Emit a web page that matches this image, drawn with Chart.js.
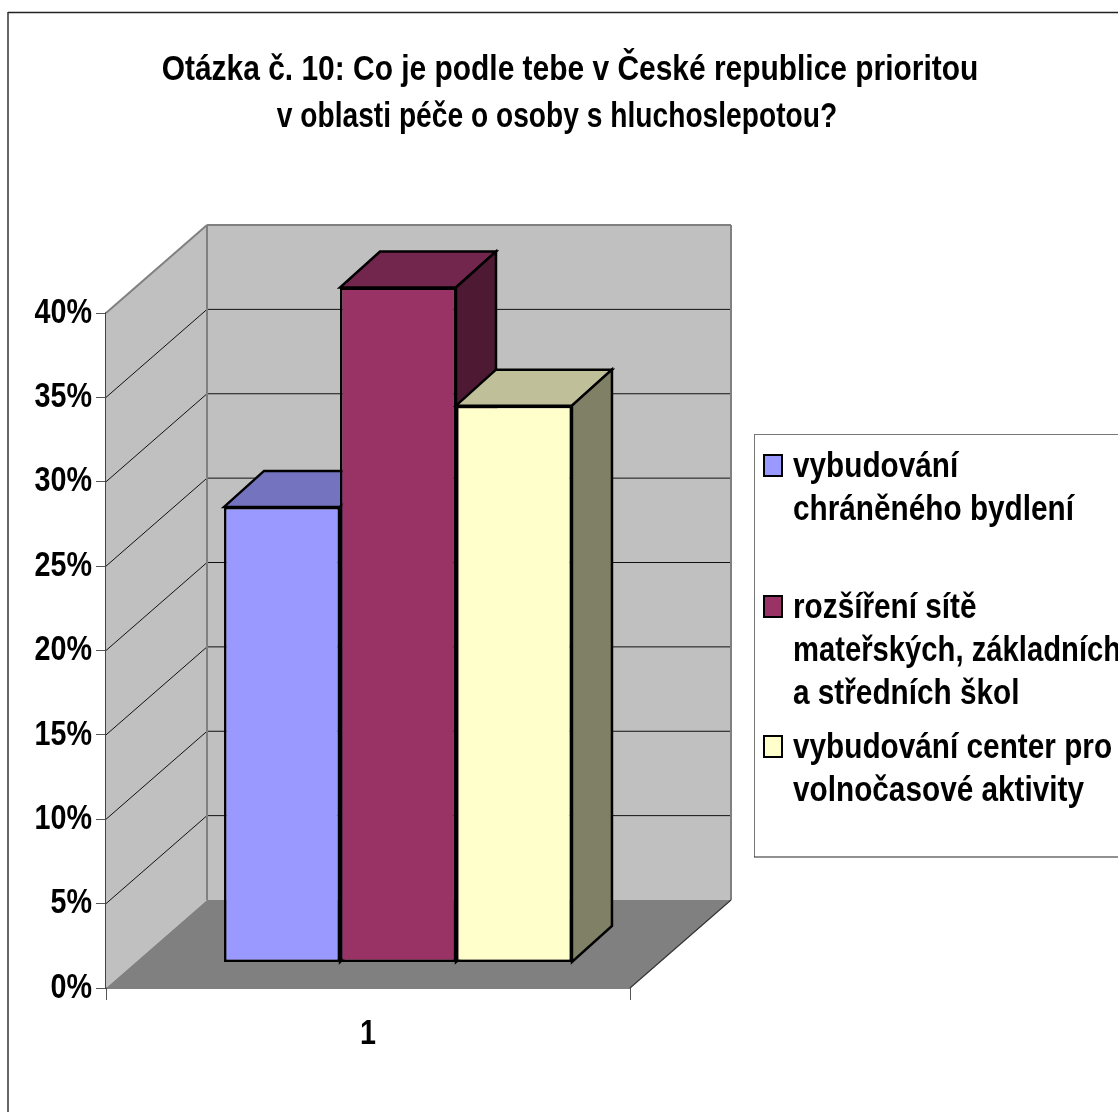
<!DOCTYPE html>
<html>
<head>
<meta charset="utf-8">
<style>
  html, body { margin: 0; padding: 0; background: #fff; overflow: hidden; }
  #wrap { position: relative; width: 1118px; height: 1112px; }
</style>
<script src="https://cdn.jsdelivr.net/npm/chart.js@4/dist/chart.umd.min.js"></script>
</head>
<body>
<div id="wrap"><canvas id="chart" width="1118" height="1112"></canvas></div>
<script>
const titleLines = [
  "Otázka č. 10: Co je podle tebe v České republice prioritou",
  "v oblasti péče o osoby s hluchoslepotou?"
];
const categories = ["1"];
const seriesNames = [
  ["vybudování", "chráněného bydlení"],
  ["rozšíření sítě", "mateřských, základních", "a středních škol"],
  ["vybudování center pro", "volnočasové aktivity"]
];
const seriesValues = [[27], [40], [33]];
const seriesColors = ["#9999FF", "#993366", "#FFFFCC"];
const topColors = ["#7373BF", "#73264D", "#BFBF99"];
const sideColors = ["#4D4D80", "#4D1933", "#808066"];
const tickLabels = ["0%", "5%", "10%", "15%", "20%", "25%", "30%", "35%", "40%"];

const fontFamily = '"Liberation Sans", Arial, sans-serif';

const canvas = document.getElementById("chart");

// o texto do original e estreito: comprime as letras na horizontal
const context = canvas.getContext("2d");
const rawFillText = context.fillText;
context.fillText = function (s, x, y, maxWidth) {
  let squeeze = 0.82;
  if (seriesNames.flat().includes(s)) squeeze = 0.85;
  if (s === seriesNames[1][1]) squeeze = 0.835;
  if (s === titleLines[0]) squeeze = 0.855;
  if (s === titleLines[1]) { squeeze = 0.805; x -= 13; }
  rawFillText.call(this, s, x, y, this.measureText(s).width * squeeze);
};

function poly(ctx, pts, fill, stroke, width) {
  ctx.beginPath();
  pts.forEach((p, i) => i ? ctx.lineTo(p[0], p[1]) : ctx.moveTo(p[0], p[1]));
  ctx.closePath();
  if (fill) { ctx.fillStyle = fill; ctx.fill(); }
  if (stroke) { ctx.strokeStyle = stroke; ctx.lineWidth = width; ctx.lineJoin = "miter"; ctx.stroke(); }
}

function line(ctx, x1, y1, x2, y2, color, width) {
  ctx.beginPath();
  ctx.moveTo(x1, y1);
  ctx.lineTo(x2, y2);
  ctx.strokeStyle = color;
  ctx.lineWidth = width;
  ctx.stroke();
}

// paredes, chao e barras em pseudo 3D
const box3d = {
  id: "box3d",
  beforeDraw(chart) {
    const ctx = chart.ctx;
    ctx.save();
    line(ctx, 8, 12.5, 1118, 12.5, "#222", 1.5);
    line(ctx, 8, 12, 8, 1112, "#333", 1.5);
    ctx.restore();
  },
  beforeDatasetsDraw(chart) {
    const ctx = chart.ctx;
    const a = chart.chartArea;
    const y = chart.scales.y;
    const dx = 101, dy = -88;
    ctx.save();

    // paredes
    poly(ctx, [[a.left, a.bottom], [a.left, a.top], [a.left + dx, a.top + dy], [a.left + dx, a.bottom + dy]], "#C0C0C0");
    poly(ctx, [[a.left + dx, a.top + dy], [a.right + dx, a.top + dy], [a.right + dx, a.bottom + dy], [a.left + dx, a.bottom + dy]], "#C0C0C0");
    poly(ctx, [[a.left, a.bottom], [a.right, a.bottom], [a.right + dx, a.bottom + dy], [a.left + dx, a.bottom + dy]], "#808080");

    // linhas de grade
    y.ticks.forEach(t => {
      const py = y.getPixelForValue(t.value);
      if (t.value === 0 || t.value === 40) return;
      line(ctx, a.left, py, a.left + dx, py + dy, "#111", 1);
      line(ctx, a.left + dx, py + dy, a.right + dx, py + dy, "#111", 1);
    });
    line(ctx, a.left, a.top, a.left + dx, a.top + dy, "#808080", 2);
    line(ctx, a.left + dx, a.top + dy, a.right + dx, a.top + dy, "#808080", 2);
    line(ctx, a.left + dx, a.top + dy, a.left + dx, a.bottom + dy, "#808080", 2);
    line(ctx, a.right + dx, a.top + dy, a.right + dx, a.bottom + dy, "#808080", 2);
    line(ctx, a.right, a.bottom, a.right + dx, a.bottom + dy, "#333", 1.2);

    // barras, da esquerda para a direita
    const ox = 30, oy = -25.5, bx = 40, by = -36;
    ctx.translate(ox, oy);
    chart.getSortedVisibleDatasetMetas().forEach(meta => {
      const i = meta.index;
      meta.data.forEach(bar => {
        const p = bar.getProps(["x", "y", "base", "width"], true);
        const l = p.x - p.width / 2, r = p.x + p.width / 2;
        poly(ctx, [[l, p.y], [r, p.y], [r + bx, p.y + by], [l + bx, p.y + by]], topColors[i], "#000", 2.5);
        poly(ctx, [[r, p.y], [r + bx, p.y + by], [r + bx, p.base + by], [r, p.base]], sideColors[i], "#000", 2.5);
        bar.draw(ctx);
      });
    });
    ctx.restore();
    return false;
  },
  afterDraw(chart) {
    const ctx = chart.ctx;
    ctx.save();

    // legenda
    ctx.fillStyle = "#fff";
    ctx.fillRect(754, 434, 364, 423);
    line(ctx, 754, 434.5, 1118, 434.5, "#777", 1);
    line(ctx, 754.5, 434, 754.5, 857, "#777", 1);
    line(ctx, 754, 857, 1118, 857, "#222", 1);
    const rowTops = [477, 618, 758];
    ctx.font = "bold 35px " + fontFamily;
    ctx.textBaseline = "alphabetic";
    seriesNames.forEach((lines, i) => {
      ctx.fillStyle = seriesColors[i];
      ctx.strokeStyle = "#000";
      ctx.lineWidth = 2;
      ctx.fillRect(764, rowTops[i] - 22, 18, 21);
      ctx.strokeRect(764, rowTops[i] - 22, 18, 21);
      ctx.fillStyle = "#000";
      lines.forEach((s, k) => ctx.fillText(s, 793, rowTops[i] + k * 43));
    });
    ctx.restore();
  }
};

new Chart(canvas, {
  type: "bar",
  data: {
    labels: categories,
    datasets: seriesValues.map((values, i) => ({
      label: seriesNames[i].join(" "),
      data: values,
      backgroundColor: seriesColors[i],
      borderColor: "#000",
      borderWidth: 2.5,
      borderSkipped: false,
      categoryPercentage: 0.664,
      barPercentage: 1
    }))
  },
  options: {
    responsive: false,
    animation: false,
    devicePixelRatio: 1,
    layout: { padding: { left: 22, right: 0, top: 0, bottom: 0 } },
    plugins: {
      legend: { display: false },
      tooltip: { enabled: false },
      title: {
        display: true,
        text: titleLines,
        color: "#000",
        font: { family: fontFamily, size: 35, weight: "bold", lineHeight: 1.343 },
        padding: { top: 47, bottom: 172 }
      }
    },
    scales: {
      x: {
        grid: { drawOnChartArea: false, tickLength: 12, color: "#555" },
        border: { color: "#000", width: 1.5 },
        ticks: { color: "#000", padding: 13, font: { family: fontFamily, size: 35, weight: "bold" } },
        afterFit(scale) { scale.height = 124; }
      },
      y: {
        min: 0,
        max: 40,
        grid: { drawOnChartArea: false, tickLength: 10, color: "#555" },
        border: { color: "#444", width: 2 },
        ticks: {
          stepSize: 5,
          color: "#000",
          padding: 4,
          font: { family: fontFamily, size: 35, weight: "bold" },
          callback: (v, i) => tickLabels[i]
        },
        afterFit(scale) { scale.width = 84; }
      },
      // so reserva o espaco da legenda
      legendSpace: {
        position: "right",
        grid: { display: false },
        border: { display: false },
        ticks: { display: false },
        afterFit(scale) { scale.width = 488; }
      }
    }
  },
  plugins: [box3d]
});
</script>
</body>
</html>
